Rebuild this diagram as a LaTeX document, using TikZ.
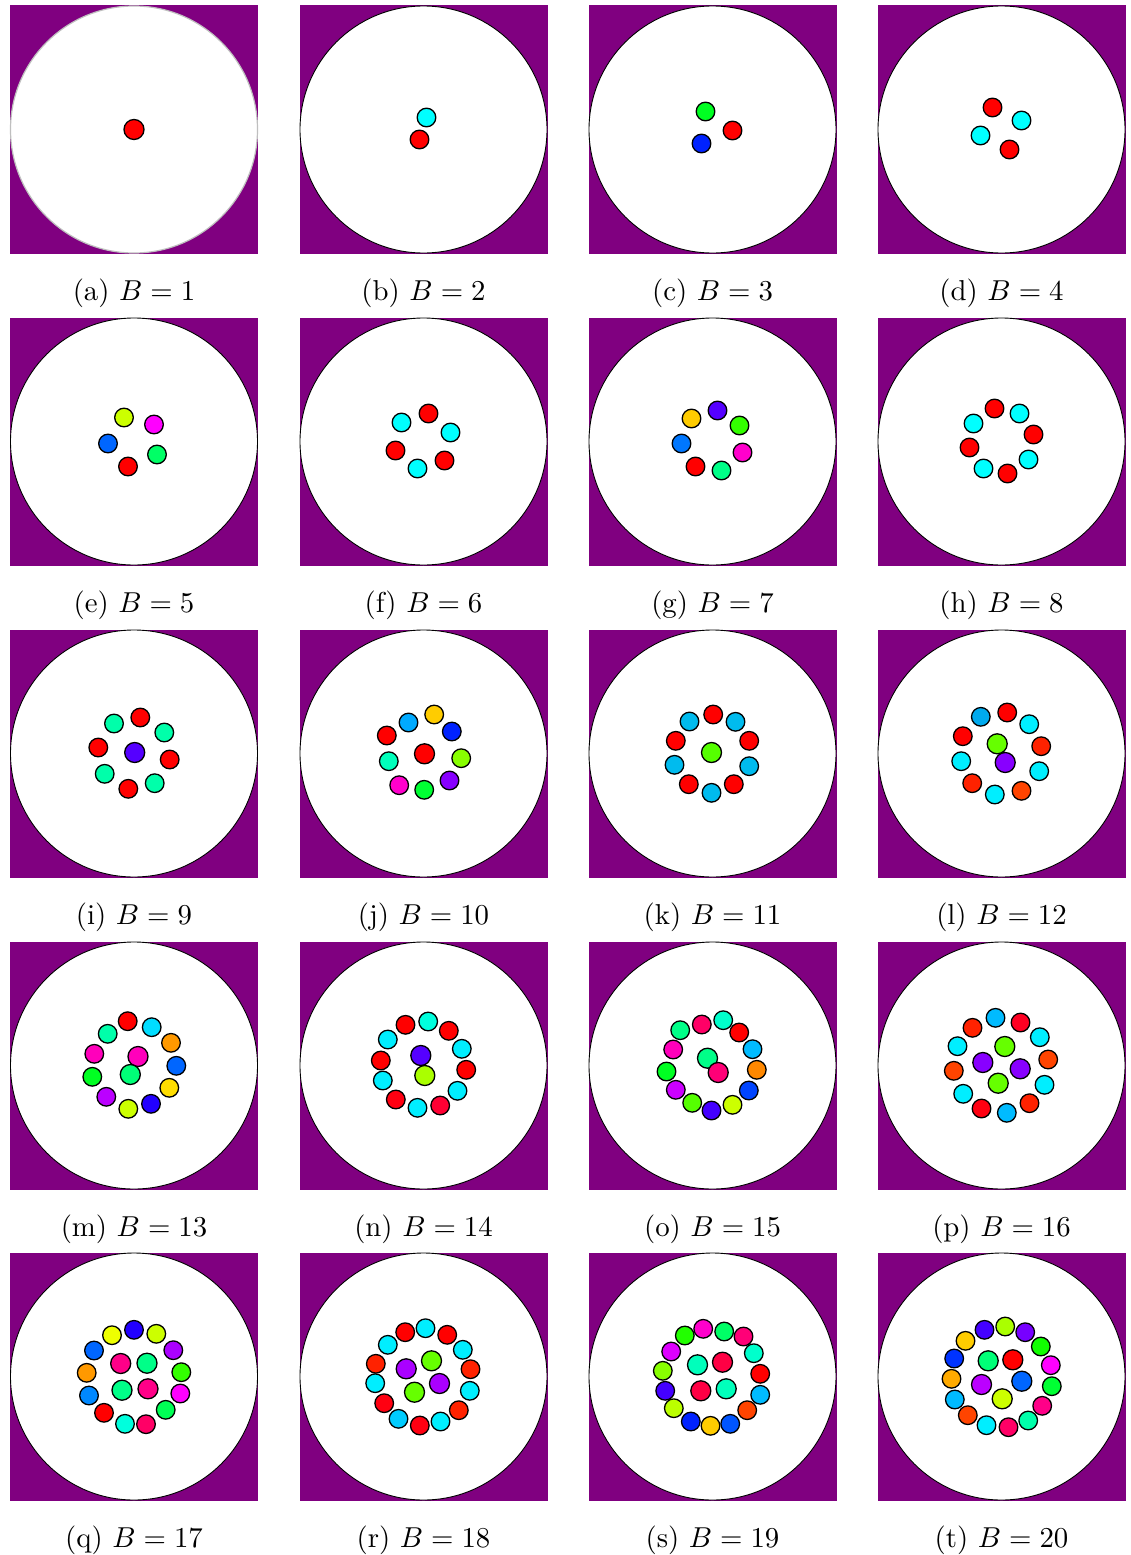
\documentclass[tikz,border=0pt]{standalone}
\definecolor{bgpurple}{HTML}{800080}
\tikzset{
  panelbg/.style={fill=bgpurple},
  disk/.style={fill=white,draw=black,line width=0.9pt},
  diskgrey/.style={fill=white,draw=black!25,line width=1.2pt},
  dot/.style={draw=black,line width=1.3pt},
  caption/.style={inner sep=0pt}
}
% #1 name, #2 cx, #3 cy, #4 letter, #5 B, #6 outer dots, #7 inner dots, #8 disk style
\newcommand\panelfig[8]{%
  \fill[panelbg] (#2-124,#3-124) rectangle (#2+124,#3+124);
  \draw[#8] (#2,#3) circle (123.5);
  \foreach \dx/\dy/\c in {#6}{\definecolor{tmpc}{HTML}{\c}\draw[dot,fill=tmpc] (#2+\dx,#3+\dy) circle (9.3);}
  \foreach \dx/\dy/\c in {#7}{\definecolor{tmpc}{HTML}{\c}\draw[dot,fill=tmpc] (#2+\dx,#3+\dy) circle (10);}
  \node[caption] (#1) at (#2,#3+164) {\scalebox{2.88}{(#4) $B=#5$}};
}
\begin{document}
\begin{tikzpicture}[x=1pt,y=-1pt]
\useasboundingbox (0,0) rectangle (1131,1555);
% row 1
\panelfig{capa}{134}{129.5}{a}{1}{}{0/0/FF0000}{diskgrey}
\panelfig{capb}{423.5}{129.5}{b}{2}{3/-12/00FFFF, -4/10/FF0000}{}{disk}
\panelfig{capc}{712.5}{129.5}{c}{3}{-7/-18/00FF22, 20/1/FF0000, -11/14/0022FF}{}{disk}
\panelfig{capd}{1001.5}{129.5}{d}{4}{-9/-22/FF0000, 20/-9/00FFFF, -21/6/00FFFF, 8/20/FF0000}{}{disk}
% row 2
\panelfig{cape}{134}{441.5}{e}{5}{-10/-24/CCFF00, 20/-17/FF00FF, -26/2/0066FF, 23/13/00FF66, -6/25/FF0000}{}{disk}
\panelfig{capf}{423.5}{441.5}{f}{6}{5/-28/FF0000, -22/-19/00FFFF, 27/-9/00FFFF, -28/9/FF0000, 21/19/FF0000, -6/27/00FFFF}{}{disk}
\panelfig{capg}{712.5}{441.5}{g}{7}{5/-31/5500FF, -21/-23/FFCC00, 27/-16/33FF00, -31/2/0077FF, 30/11/FF00CC, -17/25/FF0000, 9/29/00FF88}{}{disk}
\panelfig{caph}{1001.5}{441.5}{h}{8}{-7/-33/FF0000, 18/-28/00FFFF, -28/-18/00FFFF, 32/-7/FF0000, -32/6/FF0000, 27/18/00FFFF, -18/27/00FFFF, 6/32/FF0000}{}{disk}
% row 3
\panelfig{capi}{134}{753.5}{i}{9}{-20/-30/00FFAA, 6.3/-36/FF0000, 30.3/-21/00FFAA, -35.7/-6/FF0000, 35.7/6/FF0000, -29.3/20.3/00FFAA, 20.7/29.7/00FFAA, -5.7/35.3/FF0000}{0.7/-1/5500FF}{disk}
\panelfig{capj}{423.5}{753.5}{j}{10}{10.7/-39/FFCC00, -15/-31/00AAFF, 28.3/-22/0022FF, -36.7/-18/FF0000, 37.7/4.7/88FF00, -34.7/7.7/00FFBB, 26/27/8800FF, -24.3/31.7/FF00CC, 0.7/36.3/00FF33}{1/0.3/FF0000}{disk}
\panelfig{capk}{712.5}{753.5}{k}{11}{0.7/-39/FF0000, -23/-32/00BBEE, 23/-31.7/00BBEE, -36.7/-12.7/FF0000, 36.7/-12.7/FF0000, -38/11.3/00BBEE, 36.7/12.7/00BBEE, -23.7/30.7/FF0000, 21.3/30.7/FF0000, -1/39.3/00BBEE}{-1/-1/55FF00}{disk}
\panelfig{capl}{1001.5}{753.5}{l}{12}{5.7/-41/FF0000, -20.7/-36.7/00AAEE, 27.7/-29.3/00EEFF, -38.7/-17.3/FF0000, 39.7/-7.3/FF2200, -40.3/7.7/00EEFF, 37.7/17.7/00EEFF, -29.3/29.7/FF2200, 20/37.3/FF4400, -6.7/41/00EEFF}{-4.3/-9.7/66FF00, 3.7/9/8800FF}{disk}
% row 4
\panelfig{capm}{134}{1065.5}{m}{13}{-6.3/-44.3/FF0000, 17.7/-38.3/00DDFF, -26.3/-31.7/00FFAA, 37/-22.7/FF9900, -39.7/-11.7/FF00BB, 42.3/0.3/0066FF, -41.7/11.3/00FF22, 35.3/22.3/FFDD00, -27.7/31.3/BB00FF, 17/38.3/2200FF, -5.7/43.3/CCFF00}{4/-9/FF00BB, -3.7/9/00FF77}{disk}
\panelfig{capn}{423.5}{1065.5}{n}{14}{4.7/-44/00FFDD, -18/-40.7/FF0000, 25.3/-34.7/FF0000, -35.7/-26/00EEFF, 38.3/-16.7/00EEFF, -42.7/-5/FF0000, 42.7/4.3/FF0000, -40.7/15/00EEFF, 34/25.3/00EEFF, -27.7/34/FF0011, 16.7/40/FF0033, -6/42.3/00EEFF}{-2.7/-10/5500FF, 1.3/10/AAFF00}{disk}
\panelfig{capo}{712.5}{1065.5}{o}{15}{10.7/-45.3/00FFCC, -10.7/-41/FF0066, -32.3/-35.3/00FF88, 26.7/-33/FF0000, 40/-16.3/00BBFF, -39.3/-16/FF00BB, 44.3/4.3/FF8800, -46/6/00FF22, 36.3/25/0044FF, -36.7/24.3/CC00FF, -20.3/37.3/55FF00, 20/39.3/CCFF00, -1/45/4400FF}{-5/-7.3/00FF88, 5.7/7/FF0077}{disk}
\panelfig{capp}{1001.5}{1065.5}{p}{16}{-6/-47.7/00BBFF, 19/-43/FF0022, -29/-37.7/FF2200, 38.3/-28.3/00EEFF, -44/-19.3/00EEFF, 46.7/-6/FF4400, -47.7/5.3/FF4400, 43/19.3/00EEFF, -38.3/28.3/00EEFF, 28/37.7/FF2200, -20/43/FF0011, 5.3/47.3/00BBFF}{3.3/-19/66FF00, -18.7/-3/8800FF, 18.7/3.3/8800FF, -3.3/17.7/66FF00}{disk}
% row 5
\panelfig{capq}{134}{1376.5}{q}{17}{0/-46.7/2200FF, -22/-41.3/EEFF00, 22.3/-42.7/CCFF00, -40/-26/0066FF, 39.3/-26.3/AA00FF, -47.3/-3.7/FF9900, 47.3/-4.3/33FF00, -45/19/0088FF, 46.3/17/FF00FF, -30/36.3/FF0000, 31.7/33.3/00FF55, -9/47.3/00FFDD, 12/47.7/FF0066}{-13.3/-13/FF0088, 13/-13.3/00FF88, -12/13.7/00FF88, 14/12.3/FF0088}{disk}
\panelfig{capr}{423.5}{1376.5}{r}{18}{2/-48.3/00EEFF, -18.3/-44.3/FF0000, 23.7/-41.7/FF0000, -35.7/-31.7/00EEFF, 39.3/-26.7/00EEFF, -47.7/-12.7/FF2200, 47/-7.3/FF2200, -48.3/6.7/00EEFF, 46.3/14.3/00EEFF, -39.3/26.7/FF0011, 35.3/33.7/FF2200, -25/42.3/00CCFF, 17/45/00EEFF, -3.7/49/FF0011}{8/-15.7/66FF00, -17.3/-7.7/AA00FF, 16/7/AA00FF, -9/15.7/66FF00}{disk}
\panelfig{caps}{712.5}{1376.5}{s}{19}{-9.3/-47.7/FF00CC, 11.7/-45/00FF66, -27.7/-41/22FF00, 31/-40/FF0077, -41.3/-25/DD00FF, 41.3/-23.3/00FFCC, 47.7/-2.7/FF0000, -49.7/-5.7/88FF00, -47.3/14.3/4400FF, 47.7/18.3/00BBFF, -38.7/31.7/BBFF00, 34.7/33.7/FF4400, -21.7/45/0022FF, 17.7/47.3/0055FF, -2/49.3/FFCC00}{10/-14.3/FF0044, -15/-11.7/00FFBB, -11.7/14.3/FF0044, 13.7/12.3/00FFBB}{disk}
\panelfig{capt}{1001.5}{1376.5}{t}{20}{3.7/-50/AAFF00, -17/-46.7/4400FF, 23.7/-44.3/7700FF, -36/-35.7/FFCC00, 39.3/-30/11FF00, -47.3/-18/0033FF, 49.3/-11.3/FF00FF, -50/2.3/FFAA00, 50.3/9.7/00FF33, -46.7/23/00BBFF, 40.7/29.3/FF0088, -33.7/38.7/FF4400, 26.7/44/00FFAA, -15/48.7/00EEFF, 7/50.7/FF0066}{-13.3/-15.7/00FF77, 11.3/-16.7/FF0000, 20.3/4.7/0066FF, -20/8/BB00FF, 0.7/22.3/CCFF00}{disk}
\end{tikzpicture}
\end{document}
